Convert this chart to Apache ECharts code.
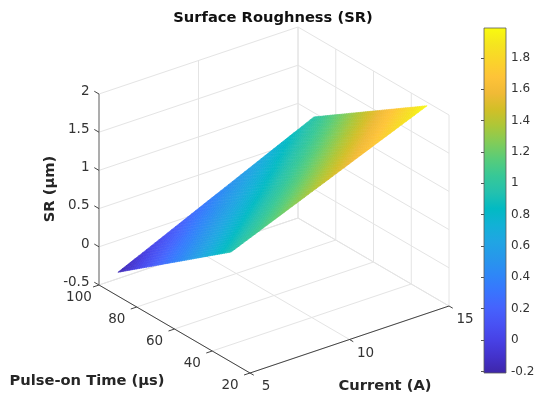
<!DOCTYPE html>
<html>
<head>
<meta charset="utf-8">
<style>html,body{margin:0;padding:0;background:#fff}#c{width:534px;height:400px;filter:blur(0.45px)}</style>
<script src="https://cdn.jsdelivr.net/npm/echarts@6/dist/echarts.min.js"></script>
</head>
<body>
<div id="c"></div>
<script>
// ---- data ----
const currents = [5, 14.85];
const pulseOnTimes = [30, 90];
const srAt30 = [0.94, 1.99];   // SR at pulse-on 30 for each current
const srAt90 = [-0.19, 0.98];  // SR at pulse-on 90 for each current
const currentTicks = [5, 10, 15];
const pulseTicks = [20, 40, 60, 80, 100];
const srTicks = [-0.5, 0, 0.5, 1, 1.5, 2];
const colorbarTicks = [-0.2, 0, 0.2, 0.4, 0.6, 0.8, 1, 1.2, 1.4, 1.6, 1.8];
const colorMin = -0.21, colorMax = 1.99;
const parula = [
 [.2422,.1504,.6603],[.2647,.1978,.7952],[.2783,.2559,.8991],[.2810,.3228,.9579],
 [.2699,.3892,.9906],[.2206,.4603,.9973],[.1786,.5289,.9682],[.1540,.5902,.9218],
 [.1248,.6459,.8883],[.0689,.6948,.8394],[.0067,.7312,.7660],[.1408,.7584,.6842],
 [.2161,.7843,.5923],[.3406,.8008,.4789],[.5044,.7993,.3480],[.6720,.7793,.2227],
 [.8203,.7498,.1535],[.9393,.7288,.2100],[.9970,.7659,.2199],[.9786,.8299,.1663],
 [.9598,.8964,.1201],[.9763,.9831,.0538]
];

// ---- fixed view of the 3D box, onto a plane measured by the hidden axes ----
const xLo = 5, xHi = 15, tLo = 20, tHi = 100, zLo = -0.5, zHi = 2;
function project(x, t, z) {
  return [
    250 + (x - xLo) * 19.9 - (t - tLo) * 1.8875,
    373 - (x - xLo) * 6.7 - (t - tLo) * 1.1 - (z - zLo) * 76.4
  ];
}
const FONT = '"DejaVu Sans"';
function lerpColor(v) {
  const f = Math.max(0, Math.min(1, (v - colorMin) / (colorMax - colorMin))) * (parula.length - 1);
  const i = Math.min(parula.length - 2, Math.floor(f)), w = f - i;
  const c = parula[i].map((a, k) => Math.round(255 * (a + (parula[i + 1][k] - a) * w)));
  return 'rgb(' + c.join(',') + ')';
}

// wall and floor grid lines
const gridSegs = [];
srTicks.forEach(z => {
  gridSegs.push([xLo, tHi, z, xHi, tHi, z]);
  gridSegs.push([xHi, tHi, z, xHi, tLo, z]);
});
currentTicks.forEach(x => {
  gridSegs.push([x, tHi, zLo, x, tHi, zHi]);
  gridSegs.push([x, tLo, zLo, x, tHi, zLo]);
});
pulseTicks.forEach(t => {
  gridSegs.push([xHi, t, zLo, xHi, t, zHi]);
  gridSegs.push([xLo, t, zLo, xHi, t, zLo]);
});

// axis lines and ticks
const axisSegs = [
  [xLo, tLo, zLo, xHi, tLo, zLo, '#444444', 1],
  [xLo, tLo, zLo, xLo, tHi, zLo, '#444444', 1],
  [xLo, tHi, zLo, xLo, tHi, zHi, '#888888', 1.3]
];
currentTicks.forEach(x => axisSegs.push([x, tLo, zLo, x, tLo - 2, zLo, '#444444', 1]));
pulseTicks.forEach(t => axisSegs.push([xLo, t, zLo, xLo - 0.3, t, zLo, '#444444', 1]));
srTicks.forEach(z => axisSegs.push([xLo, tHi, z, xLo, tHi + 2.5, z, '#444444', 1]));

// tick labels: [text, x, t, z, pixel dx, pixel dy, align]
const tickLabels = [];
currentTicks.forEach(x => tickLabels.push([String(x), x, tLo, zLo, 16, 13.5, 'center']));
pulseTicks.forEach(t => tickLabels.push([String(t), xLo, t, zLo, -20, 12.5, 'center']));
srTicks.forEach(z => tickLabels.push([String(z), xLo, tHi, z, -9.5, -2.7, 'right']));

function segRender(params, api) {
  const s = params.context.segs[params.dataIndex];
  const a = api.coord(project(s[0], s[1], s[2])), b = api.coord(project(s[3], s[4], s[5]));
  return { type: 'line', shape: { x1: a[0], y1: a[1], x2: b[0], y2: b[1] },
    style: { stroke: s[6] || '#e4e4e4', lineWidth: s[7] || 1, fill: null } };
}
function segSeries(segs, z) {
  return { type: 'custom', coordinateSystem: 'cartesian2d', silent: true, clip: false, z: z,
    data: segs.map((s, i) => [i]),
    renderItem: function (params, api) { params.context.segs = segs; return segRender(params, api); } };
}

// shaded surface, bilinear between the four measured corners like interpolated shading
const SHADE_STEPS = 48;
function surfaceValue(u, v) {
  const near = srAt30[0] + (srAt30[1] - srAt30[0]) * u;
  const far = srAt90[0] + (srAt90[1] - srAt90[0]) * u;
  return near + (far - near) * v;
}
function surfaceRender(params, api) {
  const children = [];
  const pt = (u, v) => api.coord(project(
    currents[0] + (currents[1] - currents[0]) * u,
    pulseOnTimes[0] + (pulseOnTimes[1] - pulseOnTimes[0]) * v,
    surfaceValue(u, v)));
  for (let i = 0; i < SHADE_STEPS; i++) {
    for (let j = 0; j < SHADE_STEPS; j++) {
      const u0 = i / SHADE_STEPS, u1 = (i + 1) / SHADE_STEPS, v0 = j / SHADE_STEPS, v1 = (j + 1) / SHADE_STEPS;
      const col = lerpColor(surfaceValue((u0 + u1) / 2, (v0 + v1) / 2));
      children.push({ type: 'polygon',
        shape: { points: [pt(u0, v0), pt(u1, v0), pt(u1, v1), pt(u0, v1)] },
        style: { fill: col, stroke: col, lineWidth: 0.6 } });
    }
  }
  return { type: 'group', children: children };
}

function colorbarRender(params, api) {
  const top = api.coord([0, colorMax]), bot = api.coord([0, colorMin]);
  const left = params.coordSys.x, w = params.coordSys.width;
  const stops = parula.map((c, i) => ({ offset: 1 - i / (parula.length - 1),
    color: 'rgb(' + c.map(a => Math.round(a * 255)).join(',') + ')' })).reverse();
  return { type: 'rect', shape: { x: left, y: top[1], width: w, height: bot[1] - top[1] },
    style: { fill: new echarts.graphic.LinearGradient(0, 0, 0, 1, stops), stroke: '#5a5a5a', lineWidth: 0.8 } };
}

const chart = echarts.init(document.getElementById('c'), null, { renderer: 'canvas' });
chart.setOption({
  animation: false,
  backgroundColor: '#ffffff',
  title: { text: 'Surface Roughness (SR)', left: 268, top: 6, textAlign: 'center',
    textStyle: { fontFamily: FONT, fontSize: 14.7, fontWeight: 'bold', color: '#111111' } },
  grid: [
    { left: 0, top: 0, width: 534, height: 400, outerBoundsMode: 'none' },
    { left: 484, top: 28, width: 22, height: 345, outerBoundsMode: 'none' }
  ],
  xAxis: [
    { gridIndex: 0, type: 'value', min: 0, max: 534, show: false },
    { gridIndex: 1, type: 'value', min: 0, max: 1, show: false }
  ],
  yAxis: [
    { gridIndex: 0, type: 'value', min: 0, max: 400, inverse: true, show: false },
    { gridIndex: 1, type: 'value', min: colorMin, max: colorMax, position: 'right',
      splitLine: { show: false },
      axisLine: { show: false },
      axisTick: { show: true, inside: true, length: 3, customValues: colorbarTicks,
        lineStyle: { color: '#555555', width: 1 } },
      axisLabel: { show: true, margin: 5, customValues: colorbarTicks,
        fontFamily: FONT, fontSize: 12, color: '#333333', formatter: v => String(v) } }
  ],
  graphic: [
    { type: 'text', x: 87, y: 381, style: { text: 'Pulse-on Time (µs)', fontFamily: FONT, fontWeight: 'bold', fontSize: 14.7, fill: '#262626', textAlign: 'center', textVerticalAlign: 'middle' } },
    { type: 'text', x: 385, y: 386.5, style: { text: 'Current (A)', fontFamily: FONT, fontWeight: 'bold', fontSize: 14.7, fill: '#262626', textAlign: 'center', textVerticalAlign: 'middle' } },
    { type: 'text', x: 50, y: 189, rotation: Math.PI / 2, style: { text: 'SR (µm)', fontFamily: FONT, fontWeight: 'bold', fontSize: 14.7, fill: '#262626', textAlign: 'center', textVerticalAlign: 'middle' } }
  ],
  series: [
    segSeries(gridSegs, 1),
    { type: 'custom', coordinateSystem: 'cartesian2d', silent: true, clip: false, z: 2,
      data: [[currents[0], pulseOnTimes[0]]], renderItem: surfaceRender },
    segSeries(axisSegs, 3),
    { type: 'custom', coordinateSystem: 'cartesian2d', silent: true, clip: false, z: 4,
      data: tickLabels.map((l, i) => [i]),
      renderItem: function (params, api) {
        const l = tickLabels[params.dataIndex];
        const p = api.coord(project(l[1], l[2], l[3]));
        return { type: 'text', style: { text: l[0], x: p[0] + l[4], y: p[1] + l[5],
          fontFamily: FONT, fontSize: 13.5, fill: '#333333', textAlign: l[6], textVerticalAlign: 'middle' } };
      } },
    { type: 'custom', coordinateSystem: 'cartesian2d', xAxisIndex: 1, yAxisIndex: 1, silent: true, z: 1,
      clip: false, data: [[0, colorMin]], renderItem: colorbarRender }
  ]
});
</script>
</body>
</html>
